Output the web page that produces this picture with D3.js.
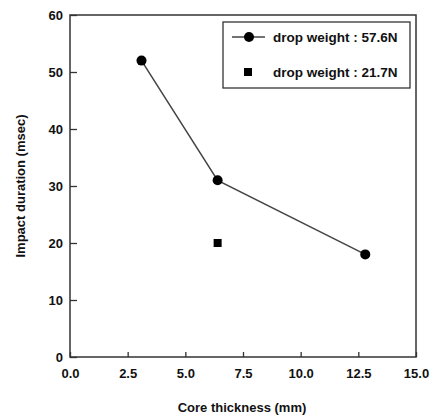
<!DOCTYPE html>
<html lang="en">
<head>
<meta charset="utf-8">
<title>Impact duration</title>
<script src="https://d3js.org/d3.v7.min.js"></script>
<style>
  body { margin: 0; background: #fff; }
  text { font-family: "Liberation Sans", Arial, sans-serif; fill: #111; font-weight: bold; }
</style>
</head>
<body>
<div id="vis"></div>
<script>
// data
const thick576 = [3.1, 6.4, 12.8];
const dur576 = [52, 31, 18];
const thick217 = [6.4];
const dur217 = [20];
const xTicks = [0, 2.5, 5, 7.5, 10, 12.5, 15];
const yTicks = [0, 10, 20, 30, 40, 50, 60];
const legendLabels = ["drop weight : 57.6N", "drop weight : 21.7N"];

const width = 431, height = 418;
const plotL = 70, plotT = 15, plotR = 416, plotB = 357;

const svg = d3.select("#vis").append("svg")
  .attr("width", width).attr("height", height);

const x = d3.scaleLinear().domain([0, 15]).range([plotL, plotR]);
const y = d3.scaleLinear().domain([0, 60]).range([plotB, plotT]);

// frame
svg.append("rect")
  .attr("x", plotL).attr("y", plotT)
  .attr("width", plotR - plotL).attr("height", plotB - plotT)
  .attr("fill", "none").attr("stroke", "#333").attr("stroke-width", 1.5);

// axes, ticks pointing inward
const xAxis = svg.append("g")
  .attr("transform", `translate(0,${plotB})`)
  .call(d3.axisBottom(x).tickValues(xTicks).tickFormat(d3.format(".1f"))
    .tickSizeInner(-5).tickSizeOuter(0).tickPadding(12));
const yAxis = svg.append("g")
  .attr("transform", `translate(${plotL},0)`)
  .call(d3.axisLeft(y).tickValues(yTicks).tickFormat(d3.format("d"))
    .tickSizeInner(-7).tickSizeOuter(0).tickPadding(7));

[xAxis, yAxis].forEach(function(g) {
  g.select(".domain").remove();
  g.selectAll("line").attr("stroke", "#333").attr("stroke-width", 1.3);
  g.selectAll("text")
    .style("font-family", '"Liberation Sans", Arial, sans-serif')
    .style("font-size", "13px").style("font-weight", "bold").attr("fill", "#111");
});

// axis titles
svg.append("text")
  .attr("x", (plotL + plotR) / 2 - 1).attr("y", 412)
  .attr("text-anchor", "middle")
  .style("font-size", "13px")
  .text("Core thickness (mm)");

svg.append("text")
  .attr("transform", `translate(25,${(plotT + plotB) / 2}) rotate(-90)`)
  .attr("text-anchor", "middle")
  .style("font-size", "13px")
  .text("Impact duration (msec)");

// series 57.6N: line + circles
const pts = thick576.map((t, i) => [t, dur576[i]]);
svg.append("path")
  .datum(pts)
  .attr("d", d3.line().x(d => x(d[0])).y(d => y(d[1])))
  .attr("fill", "none").attr("stroke", "#444").attr("stroke-width", 1.5);

svg.selectAll(".c576").data(pts).enter().append("circle")
  .attr("cx", d => x(d[0])).attr("cy", d => y(d[1]))
  .attr("r", 5).attr("fill", "#000");

// series 21.7N: squares
svg.selectAll(".s217").data(thick217.map((t, i) => [t, dur217[i]])).enter().append("rect")
  .attr("x", d => x(d[0]) - 4).attr("y", d => y(d[1]) - 4)
  .attr("width", 8).attr("height", 8).attr("fill", "#000");

// legend
const lg = svg.append("g");
lg.append("rect")
  .attr("x", 223).attr("y", 22).attr("width", 187).attr("height", 66)
  .attr("fill", "#fff").attr("stroke", "#333").attr("stroke-width", 1.3);
lg.append("line")
  .attr("x1", 232).attr("x2", 265).attr("y1", 37).attr("y2", 37)
  .attr("stroke", "#444").attr("stroke-width", 1.5);
lg.append("circle").attr("cx", 249).attr("cy", 37).attr("r", 5).attr("fill", "#000");
lg.append("rect").attr("x", 244).attr("y", 68).attr("width", 8).attr("height", 8).attr("fill", "#000");
lg.selectAll(".lt").data(legendLabels).enter().append("text")
  .attr("x", 273).attr("y", (d, i) => i === 0 ? 42 : 77)
  .style("font-size", "13.5px")
  .text(d => d);
</script>
</body>
</html>
